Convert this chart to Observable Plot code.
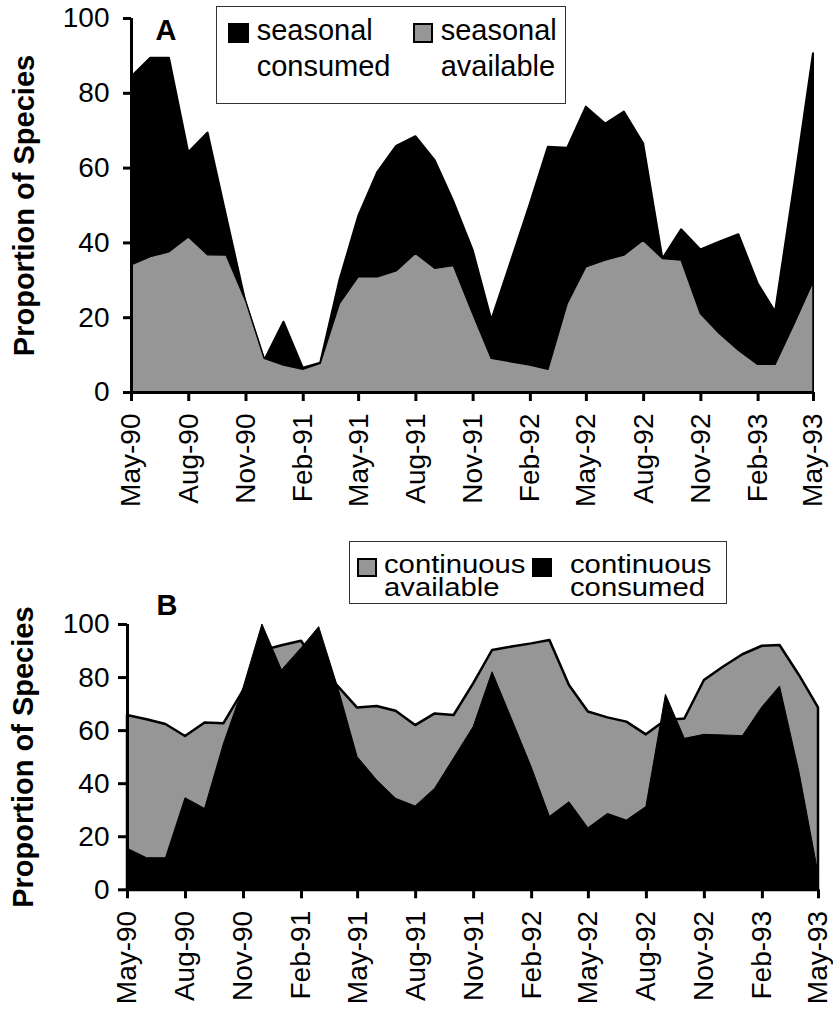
<!DOCTYPE html>
<html><head><meta charset="utf-8">
<script src="https://cdn.jsdelivr.net/npm/d3@7"></script>
<script src="https://cdn.jsdelivr.net/npm/@observablehq/plot@0.6"></script>
<style>
body{margin:0;background:#fff;font-family:"Liberation Sans",Arial,sans-serif;}
#wrap{position:relative;width:833px;height:1010px;overflow:hidden;background:#fff;}
.panel{position:absolute;left:0;}
.legend{position:absolute;border:1px solid #333;background:#fff;box-sizing:border-box;}
.sw{position:absolute;box-sizing:border-box;}
.lt{position:absolute;white-space:pre;color:#000;font-family:"Liberation Sans",Arial,sans-serif;}
</style></head><body><div id="wrap"></div>
<script>
// ---- data (monthly, May-90 .. May-93) ----
const startMonth = new Date(Date.UTC(1990, 4, 1));
const endMonth = new Date(Date.UTC(1993, 4, 1));
const tickLabels = ["May-90","Aug-90","Nov-90","Feb-91","May-91","Aug-91","Nov-91","Feb-92","May-92","Aug-92","Nov-92","Feb-93","May-93"];
const yTicks = [0, 20, 40, 60, 80, 100];
const yTitle = "Proportion of Species";

const seasonalConsumed = [84.3, 89.4, 89.4, 64.1, 69.4, 47, 24, 8.5, 18.8, 6.5, 7.8, 30, 47, 58.9, 65.8, 68.4, 62, 51, 38, 19.3, 34.8, 50.4, 65.6, 65.3, 76.3, 71.8, 75, 66.5, 35.7, 43.5, 38.1, 40.2, 42.2, 29.1, 21.5, 56, 90.6];
const seasonalAvailable = [34, 36.2, 37.5, 41.5, 36.7, 36.6, 24.5, 9, 7.2, 6.1, 7.7, 23.7, 30.8, 30.8, 32.4, 37.1, 33.1, 33.8, 21, 9, 8.1, 7.2, 6.1, 23.7, 33.5, 35.3, 36.6, 40.6, 35.7, 35.3, 21, 15.7, 11.2, 7.4, 7.4, 18.4, 29.5];
const continuousAvailable = [65.7, 64.1, 62.3, 57.8, 62.9, 62.6, 75, 90, 92, 93.7, 84, 76.4, 68.5, 69.1, 67.3, 61.9, 66.3, 65.7, 77.6, 90.2, 91.5, 92.7, 94, 77, 67, 64.8, 63.2, 58.4, 63.8, 64.4, 78.9, 83.9, 88.6, 91.8, 92.1, 80.7, 68.6];
const continuousConsumed = [15.5, 11.9, 11.9, 34.5, 30.5, 55, 76, 100, 82.7, 91, 99, 75.5, 50, 41.2, 34.3, 31.4, 38.1, 49.5, 61.3, 82, 64.2, 46.2, 27.5, 33, 23.2, 28.6, 26.1, 31.2, 73.5, 56.9, 58.4, 58.2, 57.9, 68.8, 76.6, 44, 6];

const legendA = [["seasonal", "consumed"], ["seasonal", "available"]];
const legendB = [["continuous", "available"], ["continuous", "consumed"]];

const GRAY = "#969696";
const FONT = "'Liberation Sans', Arial, sans-serif";

const dates = d3.utcMonth.range(startMonth, d3.utcMonth.offset(endMonth, 1));
const tickDates = dates.filter((d, i) => i % 3 === 0);
const labelByTime = new Map(tickDates.map((d, i) => [+d, tickLabels[i]]));

const rowsA = dates.map((d, i) => ({date: d, consumed: seasonalConsumed[i], available: seasonalAvailable[i]}));
const rowsB = dates.map((d, i) => ({date: d, consumed: continuousConsumed[i], available: continuousAvailable[i]}));

function makePanel(cfg) {
  const chart = Plot.plot({
    width: 833,
    height: cfg.height,
    marginLeft: cfg.mL, marginRight: cfg.mR, marginTop: cfg.mT, marginBottom: cfg.mB,
    style: {fontFamily: FONT, fontSize: "28px", color: "#000", background: "transparent", overflow: "visible"},
    x: {type: "utc", domain: [startMonth, endMonth], label: null},
    y: {domain: [0, 100], label: null},
    marks: [
      ...cfg.areas,
      Plot.ruleY([0], {stroke: "#000", strokeWidth: 3}),
      Plot.ruleX([startMonth], {stroke: "#000", strokeWidth: 3}),
      Plot.axisY({ticks: yTicks, tickSize: cfg.tickSizeY, tickPadding: cfg.tickPadY, fontSize: 28, strokeWidth: 3, tickFormat: d => String(d), label: null}),
      Plot.axisX({ticks: tickDates, tickFormat: d => labelByTime.get(+d), tickRotate: -90, tickSize: 9, tickPadding: 12, fontSize: 28, strokeWidth: 3, textAnchor: "end", lineAnchor: "middle", label: null}),
      Plot.text([yTitle], {text: d => d, frameAnchor: "left", textAnchor: "middle", lineAnchor: "middle", rotate: -90, dx: cfg.titleDx, fontSize: 29, fontWeight: "bold", fill: "#000"}),
      Plot.text([cfg.letter], {text: d => d, frameAnchor: "top-left", textAnchor: "start", lineAnchor: "top", dx: cfg.letterDx, dy: cfg.letterDy, fontSize: 29, fontWeight: "bold", fill: "#000"})
    ]
  });
  chart.classList.add("panel");
  chart.style.top = cfg.top + "px";
  return chart;
}

const wrap = document.getElementById("wrap");

wrap.appendChild(makePanel({
  top: 0, height: 520, mL: 131, mR: 20, mT: 18, mB: 128,
  tickSizeY: 8, tickPadY: 14, titleDx: -107, letter: "A", letterDx: 24, letterDy: 1,
  areas: [
    Plot.areaY(rowsA, {x: "date", y: "consumed", fill: "#000", stroke: "#000", strokeWidth: 2}),
    Plot.areaY(rowsA, {x: "date", y: "available", fill: GRAY, stroke: "#000", strokeWidth: 1.5})
  ]
}));

wrap.appendChild(makePanel({
  top: 560, height: 450, mL: 127, mR: 15, mT: 64, mB: 120.7,
  tickSizeY: 9, tickPadY: 9, titleDx: -104, letter: "B", letterDx: 29, letterDy: -30,
  areas: [
    Plot.areaY(rowsB, {x: "date", y: "available", fill: GRAY, stroke: "#000", strokeWidth: 2.5}),
    Plot.areaY(rowsB, {x: "date", y: "consumed", fill: "#000", stroke: "#000", strokeWidth: 1})
  ]
}));

// ---- legends (HTML, placed over the charts) ----
function box(l, t, w, h) {
  const d = document.createElement("div");
  d.className = "legend";
  Object.assign(d.style, {left: l + "px", top: t + "px", width: w + "px", height: h + "px"});
  wrap.appendChild(d);
}
function swatch(l, t, w, h, color, border) {
  const d = document.createElement("div");
  d.className = "sw";
  Object.assign(d.style, {left: l + "px", top: t + "px", width: w + "px", height: h + "px", background: color, border: border || "none"});
  wrap.appendChild(d);
}
// two-line label in one element; firstBaseline = baseline of line 1, lh = line spacing
function label(lines, l, firstBaseline, size, lh, sx) {
  const d = document.createElement("div");
  d.className = "lt";
  d.textContent = lines.join("\n");
  const base = (lh - 1.117 * size) / 2 + 0.905 * size;
  Object.assign(d.style, {left: l + "px", top: (firstBaseline - base) + "px", fontSize: size + "px", lineHeight: lh + "px"});
  if (sx) { d.style.transform = `scaleX(${sx})`; d.style.transformOrigin = "left top"; }
  wrap.appendChild(d);
}

// Legend A
box(216, 6, 350, 98);
swatch(228, 23, 21, 20, "#000");
label(legendA[0], 256.7, 40, 29, 36);
swatch(413, 23, 20, 20, GRAY, "2px solid #000");
label(legendA[1], 440.7, 40, 29, 36);

// Legend B
box(349, 541, 378, 63);
swatch(357, 558, 20, 19, GRAY, "2px solid #000");
label(legendB[0], 384, 573.3, 25, 22.7, 1.17);
swatch(532, 558, 20, 19, "#000");
label(legendB[1], 570, 573.3, 25, 22.7, 1.17);
</script></body></html>
